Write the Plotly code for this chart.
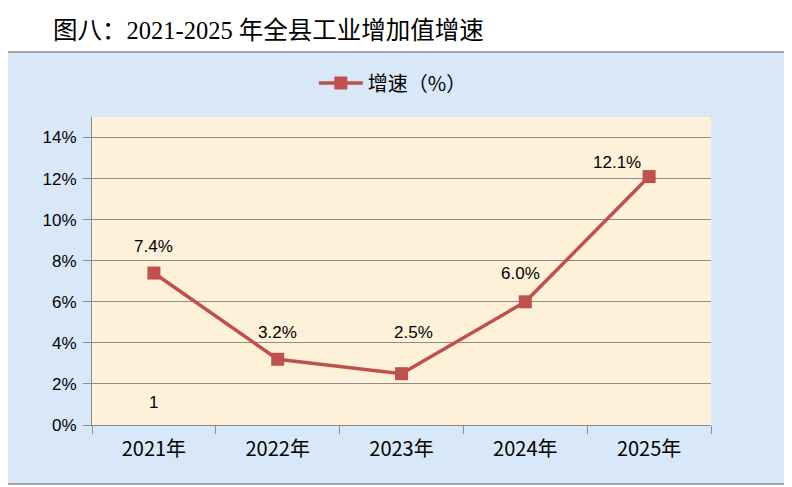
import plotly.graph_objects as go

# 数据
years = ["2021年", "2022年", "2023年", "2024年", "2025年"]
growth = [7.4, 3.2, 2.5, 6.0, 12.1]
labels = ["7.4%", "3.2%", "2.5%", "6.0%", "12.1%"]
y_ticks = [0, 2, 4, 6, 8, 10, 12, 14]
y_tick_text = ["0%", "2%", "4%", "6%", "8%", "10%", "12%", "14%"]

title_text = "图八：2021-2025 年全县工业增加值增速"
series_name = "增速（%）"

RED = "#c0504d"
GRID = "#8c8c8c"
SANS = "Liberation Sans, Arial, Noto Sans CJK SC, sans-serif"
SERIF = "Liberation Serif, Noto Sans CJK SC, serif"
CJK = "Noto Sans CJK SC, Liberation Sans, sans-serif"

# label offsets (px) relative to each point
label_dx = [0, 0, 12, -5, -32]
label_dy = [27, 27, 41, 28, 14]

# page body has an 8px margin, so the figure is a bit smaller than the window
W, H = 784, 479

fig = go.Figure()
fig.add_trace(go.Scatter(
    x=years, y=growth, mode="lines+markers", name=series_name,
    line=dict(color=RED, width=3.5),
    marker=dict(symbol="square", size=13, color=RED),
))

for x, y, t, dx, dy in zip(years, growth, labels, label_dx, label_dy):
    fig.add_annotation(x=x, y=y, text=t, showarrow=False, xshift=dx, yshift=dy,
                       font=dict(family=SANS, size=17, color="#000000"))

# stray label on the first category
fig.add_annotation(x=years[0], y=1.1, text="1", showarrow=False,
                   font=dict(family=SANS, size=17, color="#000000"))

# chart frame and plot area backgrounds
fig.add_shape(type="rect", xref="paper", yref="paper",
              x0=-0.1438, x1=1.1276, y0=-0.1916, y1=1.211,
              fillcolor="#d9e8f8", line=dict(color="#868686", width=1.5), layer="below")
fig.add_shape(type="rect", xref="paper", yref="paper",
              x0=0, x1=1, y0=0, y1=1,
              fillcolor="#fdf1da", line=dict(width=0), layer="below")

fig.update_layout(
    width=W, height=H,
    margin=dict(l=84, r=81, t=109, b=62),
    paper_bgcolor="white",
    plot_bgcolor="rgba(0,0,0,0)",
    title=dict(text=title_text, x=45 / W, xanchor="left", y=1 - 22 / H, yanchor="middle",
               font=dict(family=SERIF, size=24.5, color="#000000")),
    showlegend=True,
    legend=dict(orientation="h", x=0.486, xanchor="center", y=1.11, yanchor="middle",
                itemwidth=44, bgcolor="rgba(0,0,0,0)",
                font=dict(family=CJK, size=20, color="#000000")),
    xaxis=dict(
        range=[-0.5, 4.5],
        showgrid=False, showline=True, linecolor=GRID, linewidth=1,
        ticks="outside", ticklen=8, tickcolor=GRID, tickson="boundaries",
        ticklabelstandoff=6,
        tickfont=dict(family=CJK, size=20, color="#000000"),
    ),
    yaxis=dict(
        range=[0, 15], tickvals=y_ticks, ticktext=y_tick_text,
        showgrid=True, gridcolor=GRID, gridwidth=1,
        showline=True, linecolor=GRID, linewidth=1, zeroline=False,
        ticks="outside", ticklen=8, tickcolor=GRID, ticklabelstandoff=3,
        tickfont=dict(family=SANS, size=17, color="#000000"),
    ),
)

fig.write_html("out.html")
